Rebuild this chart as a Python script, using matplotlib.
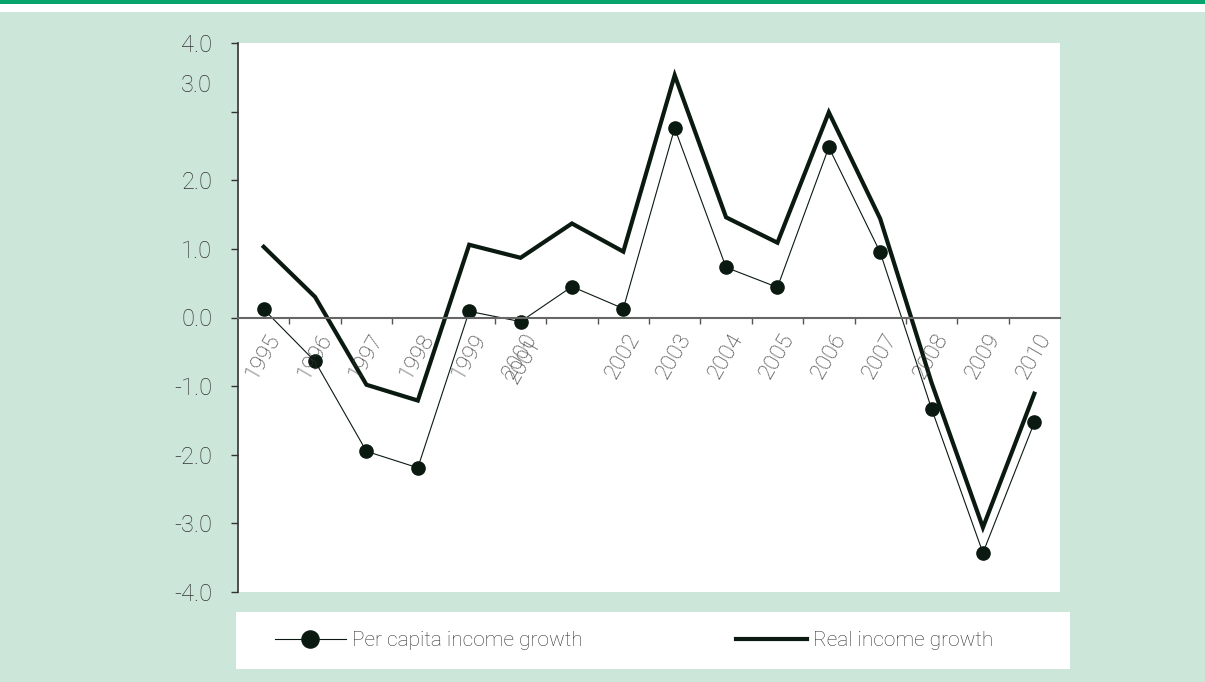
import numpy as np
import matplotlib
matplotlib.use("Agg")
import matplotlib.pyplot as plt
from matplotlib.patches import Rectangle

plt.rcParams['font.family'] = ['Roboto', 'DejaVu Sans']
plt.rcParams['font.weight'] = 'light'

# dados
anos = ['1995', '1996', '1997', '1998', '1999', '2000', '2001', '2002',
        '2003', '2004', '2005', '2006', '2007', '2008', '2009', '2010']
per_capita = [0.12, -0.64, -1.95, -2.19, 0.09, -0.06, 0.45, 0.13,
              2.76, 0.73, 0.44, 2.48, 0.95, -1.33, -3.43, -1.53]
real = [1.03, 0.30, -0.98, -1.21, 1.06, 0.87, 1.37, 0.96,
        3.53, 1.46, 1.09, 2.99, 1.44, -0.95, -3.06, -1.11]
y_ticks = [-4, -3, -2, -1, 0, 1, 2, 3, 4]
legendas = ['Per capita income growth', 'Real income growth']

fundo = '#cde6da'
verde = '#08a46c'
escuro = '#0a1a10'
cinza = '#333333'

W, H = 1205, 682
fig = plt.figure(figsize=(W / 100, H / 100), dpi=100, facecolor=fundo)

# faixa verde no topo (titulo cortado)
fig.patches.append(Rectangle((0, 1 - 4 / H), 1, 4 / H, transform=fig.transFigure,
                             facecolor=verde, edgecolor='none'))
fig.patches.append(Rectangle((0, 1 - 12 / H), 1, 8 / H, transform=fig.transFigure,
                             facecolor='white', edgecolor='none'))

ax = fig.add_axes([238 / W, 1 - 592 / H, (1060 - 238) / W, (592 - 43) / H])
ax.set_facecolor('white')

x = np.arange(len(anos))
l1, = ax.plot(x, per_capita, color=escuro, lw=0.8, marker='o', ms=9.5,
              markeredgecolor=escuro, markerfacecolor=escuro)
l2, = ax.plot(x, real, color=escuro, lw=3, solid_joinstyle='miter')

ax.set_xlim(-0.5, len(anos) - 0.5)
ax.set_ylim(-4, 4)

# eixo x passa no zero
for s in ['top', 'right']:
    ax.spines[s].set_visible(False)
ax.spines['bottom'].set_position(('data', 0))
ax.spines['bottom'].set_color('#666666')
ax.spines['bottom'].set_linewidth(1.5)
ax.spines['left'].set_color('#333333')
ax.spines['left'].set_linewidth(1.2)

ax.set_xticks(x[:-1] + 0.5)
ax.set_xticklabels([])
ax.tick_params(axis='x', direction='out', length=4, width=1, color='#555555')

# rotulos dos anos (2001 ficou em cima do 2000 no original)
for i, ano in enumerate(anos):
    xi = i
    dx, dy = 0, 0
    if ano == '2001':
        xi = 5
        dx, dy = 4, -5
    ax.annotate(ano, xy=(xi, 0), xytext=(3 + dx, -12 + dy), textcoords='offset pixels',
                rotation=60, rotation_mode='anchor', ha='right', va='top',
                fontsize=16, color=cinza)

ax.set_yticks(y_ticks)
ax.set_yticklabels(['' if v == 3 else '%.1f' % v for v in y_ticks])
ax.tick_params(axis='y', direction='out', length=5, width=1, color='#333333',
               pad=13.5, labelsize=17, labelcolor=cinza)
# o rotulo 3.0 aparece deslocado no original
ax.text(-0.5 - 26 / 51.3, 3.38, '3.0', ha='right', va='center',
        fontsize=17, color=cinza)

# caixa da legenda
fig.patches.append(Rectangle((236 / W, 1 - 669 / H), (1070 - 236) / W, 57 / H,
                             transform=fig.transFigure, facecolor='white', edgecolor='none'))
for h, lab, x0 in [(l1, legendas[0], 275), (l2, legendas[1], 736)]:
    lg = fig.legend([h], [lab], loc='center left', bbox_to_anchor=(x0 / W, 1 - 641 / H),
                    frameon=False, fontsize=15, handlelength=3.4, handletextpad=0.3,
                    borderpad=0, borderaxespad=0, markerscale=1.3, labelcolor=cinza)

plt.savefig('out.png', dpi=100, facecolor=fundo)
